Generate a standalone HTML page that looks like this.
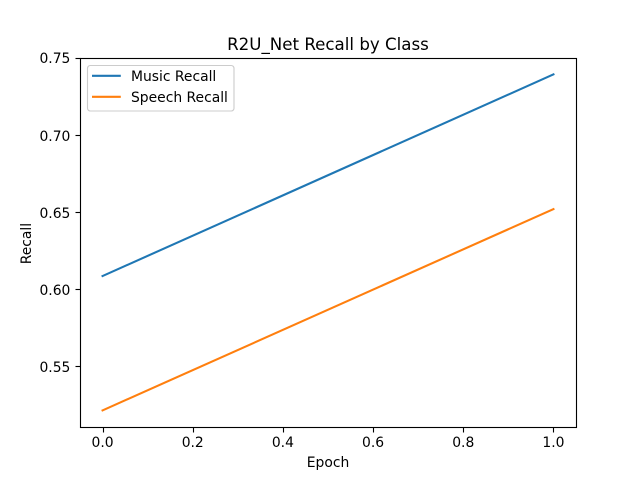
<!DOCTYPE html>
<html>
<head>
<meta charset="utf-8">
<title>R2U_Net Recall by Class</title>
<style>
html,body{margin:0;padding:0;background:#fff;width:640px;height:480px;overflow:hidden}
svg{display:block}
text{font-family:"DejaVu Sans",sans-serif;font-size:13.89px;fill:#000}
</style>
</head>
<body>
<svg id="chart" width="640" height="480" viewBox="0 0 640 480" xmlns="http://www.w3.org/2000/svg">
  <rect x="0" y="0" width="640" height="480" fill="#fff"/>
  <g id="series-layer"></g>
  <g id="axis-layer"></g>
  <rect x="80.5" y="58.5" width="496" height="369" fill="none" stroke="#000" stroke-width="1.11"/>
  <text x="328" y="50" text-anchor="middle" style="font-size:16.67px">R2U_Net Recall by Class</text>
  <text x="328" y="467" text-anchor="middle">Epoch</text>
  <text transform="translate(31 243.6) rotate(-90)" text-anchor="middle">Recall</text>
  <g>
    <rect x="87.5" y="65.5" width="146.5" height="45.5" rx="2.8" ry="2.8" fill="#fff" fill-opacity="0.8" stroke="#ccc" stroke-width="1.11"/>
    <g>
      <line x1="92" y1="75.8" x2="120.8" y2="75.8" stroke="#1f77b4" stroke-width="2.08"/>
      <text x="131" y="81">Music Recall</text>
    </g>
    <g>
      <line x1="92" y1="96.8" x2="120.8" y2="96.8" stroke="#ff7f0e" stroke-width="2.08"/>
      <text x="131" y="102">Speech Recall</text>
    </g>
  </g>
</svg>
<script>
const epochs = [0, 1];
const musicRecall = [0.6086, 0.7393];
const speechRecall = [0.5215, 0.6520];
const xTickLabels = ["0.0", "0.2", "0.4", "0.6", "0.8", "1.0"];
const yTickLabels = ["0.55", "0.60", "0.65", "0.70", "0.75"];

const NS = 'http://www.w3.org/2000/svg';
const plotLeft = 80, plotRight = 576, plotTop = 57.6, plotBottom = 427.2;

function paddedRange(values) {
  const lo = Math.min.apply(null, values);
  const hi = Math.max.apply(null, values);
  const pad = (hi - lo) * 0.05;
  return [lo - pad, hi + pad];
}
const xRange = paddedRange(epochs);
const yRange = paddedRange(musicRecall.concat(speechRecall));
function xScale(v) {
  return plotLeft + (v - xRange[0]) / (xRange[1] - xRange[0]) * (plotRight - plotLeft);
}
function yScale(v) {
  return plotBottom - (v - yRange[0]) / (yRange[1] - yRange[0]) * (plotBottom - plotTop);
}
function snap(p) {
  return Math.round(p) + 0.5;
}
function make(tag, attrs) {
  const el = document.createElementNS(NS, tag);
  Object.keys(attrs).forEach(function (k) { el.setAttribute(k, attrs[k]); });
  return el;
}

const seriesLayer = document.getElementById('series-layer');
const axisLayer = document.getElementById('axis-layer');

function drawSeries(values, color, name) {
  const pts = values.map(function (v, i) { return xScale(epochs[i]).toFixed(2) + ',' + yScale(v).toFixed(2); }).join(' ');
  const line = make('polyline', { points: pts, fill: 'none', stroke: color, 'stroke-width': 2.08, 'stroke-linecap': 'square' });
  
  
  seriesLayer.appendChild(line);
}
drawSeries(musicRecall, '#1f77b4', 'music-recall-line');
drawSeries(speechRecall, '#ff7f0e', 'speech-recall-line');

xTickLabels.forEach(function (label) {
  const x = xScale(parseFloat(label));
  const sx = snap(x);
  const tick = make('line', { x1: sx, x2: sx, y1: 427.5, y2: 432.5, stroke: '#000', 'stroke-width': 1.11 });
  
  
  axisLayer.appendChild(tick);
  const text = make('text', { x: x, y: 447, 'text-anchor': 'middle' });
  
  
  text.textContent = label;
  axisLayer.appendChild(text);
});

yTickLabels.forEach(function (label) {
  const y = yScale(parseFloat(label));
  const sy = snap(y);
  const tick = make('line', { x1: 75.5, x2: 80.5, y1: sy, y2: sy, stroke: '#000', 'stroke-width': 1.11 });
  
  
  axisLayer.appendChild(tick);
  const text = make('text', { x: 70.4, y: Math.round(y + 5.5), 'text-anchor': 'end' });
  
  
  text.textContent = label;
  axisLayer.appendChild(text);
});
</script>
</body>
</html>
